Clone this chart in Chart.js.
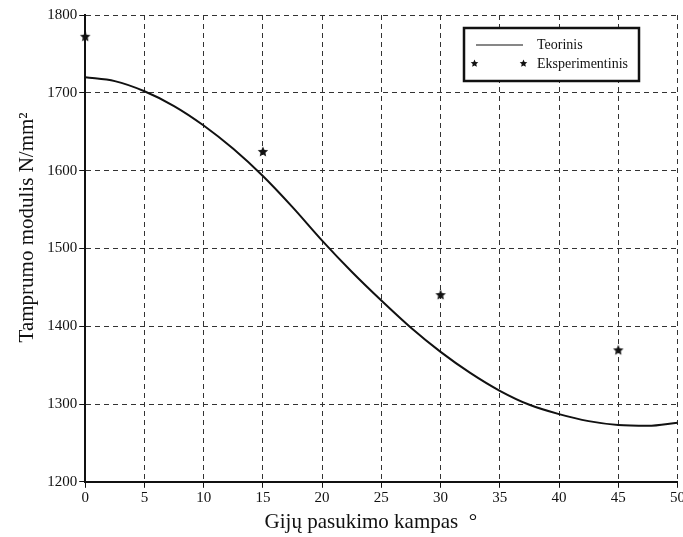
<!DOCTYPE html>
<html>
<head>
<meta charset="utf-8">
<script src="https://cdn.jsdelivr.net/npm/chart.js@4/dist/chart.umd.min.js"></script>
<style>
  html, body { margin: 0; padding: 0; background: #fff; overflow: hidden; }
  #wrap { width: 686px; height: 537px; }
</style>
</head>
<body>
<div id="wrap"><canvas id="chart" width="686" height="537"></canvas></div>
<script>
// teorinė kreivė
const angleTheory = [0, 2.5, 5, 7.5, 10, 12.5, 15, 17.5, 20, 22.5, 25, 27.5, 30, 32.5, 35, 37.5, 40, 42.5, 45, 47.5, 50]
const modulusTheory = [1720, 1715, 1702, 1683, 1658, 1628, 1593, 1553, 1510, 1470, 1433, 1398, 1367, 1340, 1317, 1299, 1287, 1278, 1273, 1272, 1276]

// eksperimentiniai taškai
const angleExp = [0, 15, 30, 45]
const modulusExp = [1772, 1624, 1440, 1369]

const xTicks = [0, 5, 10, 15, 20, 25, 30, 35, 40, 45, 50]
const yTicks = [1200, 1300, 1400, 1500, 1600, 1700, 1800]

const serif = '"Liberation Serif", "DejaVu Serif", serif'

function makeStar(size) {
  const c = document.createElement('canvas')
  c.width = size
  c.height = size
  const g = c.getContext('2d')
  const cx = size / 2, cy = size / 2
  const outer = size / 2 - 0.5, inner = outer * 0.47
  g.beginPath()
  for (let i = 0; i < 10; i++) {
    const r = i % 2 === 0 ? outer : inner
    const a = -Math.PI / 2 + i * Math.PI / 5
    const px = cx + r * Math.cos(a), py = cy + r * Math.sin(a)
    if (i === 0) g.moveTo(px, py)
    else g.lineTo(px, py)
  }
  g.closePath()
  g.fillStyle = '#111'
  g.fill()
  return c
}

const star = makeStar(12)
const smallStar = makeStar(9)

const legendBox = {
  id: 'legendBox',
  afterDraw(chart) {
    const ctx = chart.ctx
    const x = 464, y = 28, w = 175, h = 53
    ctx.save()
    ctx.fillStyle = '#fff'
    ctx.fillRect(x, y, w, h)
    ctx.strokeStyle = '#111'
    ctx.lineWidth = 2.5
    ctx.strokeRect(x, y, w, h)
    ctx.lineWidth = 1.2
    ctx.beginPath()
    ctx.moveTo(476, 45)
    ctx.lineTo(523, 45)
    ctx.stroke()
    ctx.drawImage(smallStar, 470, 59)
    ctx.drawImage(smallStar, 519, 59)
    ctx.fillStyle = '#111'
    ctx.font = '14px ' + serif
    ctx.textBaseline = 'middle'
    ctx.fillText('Teorinis', 537, 45)
    ctx.fillText('Eksperimentinis', 537, 64)
    ctx.restore()
  }
}

const gridOpts = {
  color: '#333',
  lineWidth: 1,
  tickLength: 6,
  tickColor: '#111',
  tickBorderDash: []
}

// in v4 border.dash dashes the grid lines, the axis line itself stays solid
const borderOpts = { display: true, color: '#111', width: 2, dash: [5, 4] }

new Chart(document.getElementById('chart'), {
  type: 'scatter',
  data: {
    datasets: [
      {
        label: 'Teorinis',
        data: angleTheory.map((a, i) => ({ x: a, y: modulusTheory[i] })),
        showLine: true,
        borderColor: '#111',
        borderWidth: 2,
        pointRadius: 0,
        cubicInterpolationMode: 'monotone',
        order: 2
      },
      {
        label: 'Eksperimentinis',
        data: angleExp.map((a, i) => ({ x: a, y: modulusExp[i] })),
        showLine: false,
        pointStyle: star,
        pointRadius: 6,
        order: 1
      }
    ]
  },
  options: {
    responsive: false,
    animation: false,
    clip: false,
    layout: { padding: { top: 15, left: 15, right: 0, bottom: 2 } },
    plugins: {
      legend: { display: false },
      tooltip: { enabled: false }
    },
    scales: {
      x: {
        type: 'linear',
        min: 0,
        max: 50,
        afterBuildTicks: (axis) => { axis.ticks = xTicks.map(v => ({ value: v })) },
        border: { ...borderOpts },
        grid: { ...gridOpts },
        ticks: {
          color: '#111',
          font: { family: serif, size: 15 },
          padding: 1,
          maxRotation: 0,
          callback: (v) => String(v)
        },
        title: {
          display: true,
          text: 'Gijų pasukimo kampas  °\u2003',
          color: '#111',
          font: { family: serif, size: 21 },
          padding: { top: 2, bottom: 0 }
        }
      },
      y: {
        type: 'linear',
        min: 1200,
        max: 1800,
        afterBuildTicks: (axis) => { axis.ticks = yTicks.map(v => ({ value: v })) },
        border: { ...borderOpts },
        grid: { ...gridOpts },
        ticks: {
          color: '#111',
          font: { family: serif, size: 15 },
          padding: 2,
          callback: (v) => String(v)
        },
        title: {
          display: true,
          text: '\u2003\u2003Tamprumo modulis N/mm²',
          color: '#111',
          font: { family: serif, size: 21 },
          padding: { top: 0, bottom: 5 }
        }
      }
    }
  },
  plugins: [legendBox]
})
</script>
</body>
</html>
